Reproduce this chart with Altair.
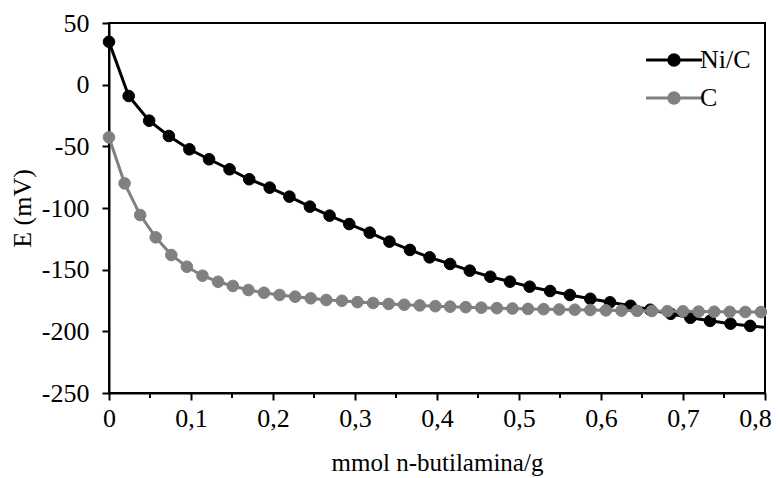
import altair as alt
import pandas as pd

# ---- data ----
series = ["Ni/C", "C"]
colors = ["#000000", "#808080"]

nic_x = [0.000, 0.024, 0.049, 0.073, 0.098, 0.122, 0.147, 0.171, 0.196, 0.220,
         0.245, 0.269, 0.293, 0.318, 0.342, 0.367, 0.391, 0.416, 0.440, 0.465,
         0.489, 0.513, 0.538, 0.562, 0.587, 0.611, 0.636, 0.660, 0.685, 0.709,
         0.733, 0.758, 0.782, 0.807]
nic_y = [34.8, -9.2, -29.2, -41.6, -52.4, -60.5, -68.6, -76.7, -83.5, -90.8,
         -98.9, -106.2, -113.0, -120.0, -127.3, -134.0, -140.0, -145.4, -150.8, -155.7,
         -159.7, -163.8, -167.3, -170.5, -173.6, -176.5, -179.3, -182.5, -185.8, -189.0,
         -191.5, -193.8, -195.6, -197.3]

c_x = [0.000, 0.019, 0.038, 0.057, 0.076, 0.095, 0.114, 0.133, 0.151, 0.170,
       0.189, 0.208, 0.227, 0.246, 0.265, 0.284, 0.303, 0.322, 0.341, 0.360,
       0.379, 0.398, 0.416, 0.435, 0.454, 0.473, 0.492, 0.511, 0.530, 0.549,
       0.568, 0.587, 0.606, 0.625, 0.644, 0.662, 0.681, 0.700, 0.719, 0.738,
       0.757, 0.776, 0.795]
c_y = [-42.7, -80.0, -105.7, -123.8, -138.1, -147.6, -154.9, -159.8, -163.2, -166.5,
       -168.7, -170.5, -171.9, -173.2, -174.6, -175.2, -176.3, -177.0, -177.8, -178.4,
       -179.0, -179.6, -180.0, -180.4, -180.8, -181.2, -181.5, -181.8, -182.0, -182.3,
       -182.5, -182.7, -183.0, -183.2, -183.4, -183.5, -183.7, -183.8, -184.0, -184.1,
       -184.2, -184.3, -184.4]

x_ticks = [0, 0.1, 0.2, 0.3, 0.4, 0.5, 0.6, 0.7, 0.8]
x_minor = [0.05, 0.15, 0.25, 0.35, 0.45, 0.55, 0.65, 0.75]
y_ticks = [50, 0, -50, -100, -150, -200, -250]

df = pd.concat([
    pd.DataFrame({"x": nic_x, "y": nic_y, "s": series[0]}),
    pd.DataFrame({"x": c_x, "y": c_y, "s": series[1]}),
], ignore_index=True)
minor_df = pd.DataFrame({"m": x_minor})

FONT = "Liberation Serif"
FS = 26

xs = alt.Scale(domain=[0, 0.8], nice=False, zero=False)
ys = alt.Scale(domain=[-250, 50], nice=False, zero=False)
cs = alt.Scale(domain=series, range=colors)

axis_common = dict(grid=False, domainColor="black", domainWidth=2, tickColor="black",
                   tickWidth=2, tickSize=7, labelFont=FONT, labelFontSize=FS,
                   labelColor="black", titleFont=FONT,
                   titleColor="black", titleFontWeight="normal")
xaxis = alt.Axis(values=x_ticks, title="mmol n-butilamina/g", titleFontSize=25,
                 labelExpr="datum.value == 0 ? '0' : replace(format(datum.value, '.1f'), '.', ',')",
                 labelOffset={"condition": {"test": "datum.value == 0.8", "value": -10},
                              "value": 0},
                 labelPadding=5, titlePadding=19, labelFlush=False, **axis_common)
yaxis = alt.Axis(values=y_ticks, title="E (mV)", titleFontSize=FS, labelPadding=13,
                 titlePadding=6,
                 labelExpr="datum.value < 0 ? '-' + format(-datum.value, 'd') : format(datum.value, 'd')",
                 **axis_common)

# line + circle legend symbol (unit box of the symbol = 14 px)
PATH = ("M-4,0L4,0M0.75,0A0.75,0.75,0,1,1,-0.75,0"
        "A0.75,0.75,0,1,1,0.75,0Z")
legend = alt.Legend(title=None, orient="none", legendX=552, legendY=24,
                    symbolType=PATH, symbolSize=196, symbolStrokeWidth=3,
                    symbolOpacity=1, labelFont=FONT, labelFontSize=FS,
                    labelColor="black", labelOffset=13, rowPadding=12, padding=0)

X = alt.X("x:Q", scale=xs, axis=xaxis)
Y = alt.Y("y:Q", scale=ys, axis=yaxis)


def line_layer(name):
    return alt.Chart(df).transform_filter(alt.datum.s == name).mark_line(
        strokeWidth=3, clip=True, color=colors[series.index(name)]).encode(x=X, y=Y)


def point_layer(name):
    return alt.Chart(df).transform_filter(
        (alt.datum.s == name) & (alt.datum.x <= 0.8)).mark_point(
        filled=True, size=135, opacity=1, strokeWidth=1).encode(
        x=X, y=Y,
        fill=alt.Fill("s:N", scale=cs, legend=legend),
        stroke=alt.Stroke("s:N", scale=cs, legend=legend))


minor = alt.Chart(minor_df).mark_rule(color="black", strokeWidth=2).encode(
    x=alt.X("m:Q", scale=xs, axis=xaxis), y=alt.value(370), y2=alt.value(375))

chart = alt.layer(
    minor,
    line_layer("Ni/C"), point_layer("Ni/C"),
    line_layer("C"), point_layer("C"),
).properties(
    width=656, height=370,
    autosize=alt.AutoSizeParams(type="none"),
    padding={"left": 101, "top": 15, "right": 7, "bottom": 88},
).configure_view(stroke="black", strokeWidth=2)

chart.save("out.html", embed_options={"renderer": "svg", "actions": False})
